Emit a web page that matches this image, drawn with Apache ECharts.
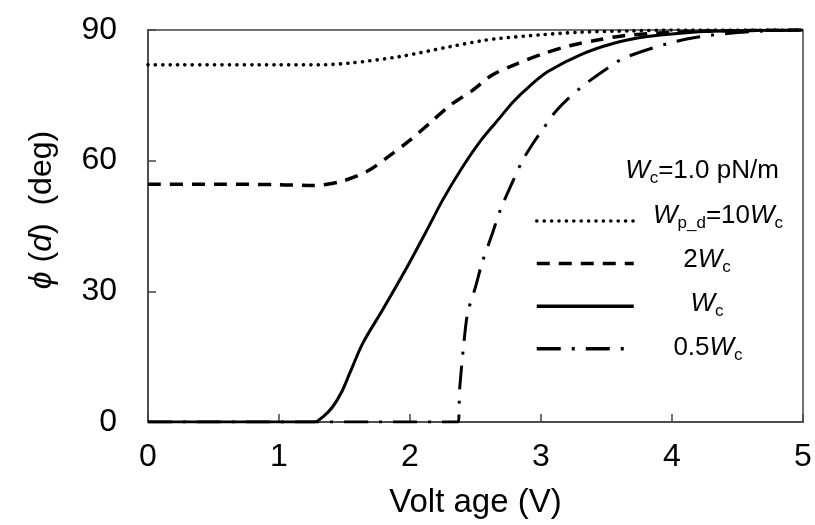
<!DOCTYPE html>
<html>
<head>
<meta charset="utf-8">
<script src="https://cdn.jsdelivr.net/npm/echarts@6/dist/echarts.min.js"></script>
<style>
	html, body { margin: 0; padding: 0; background: #fff; }
	#chart { width: 815px; height: 525px; }
</style>
</head>
<body>
<div id="chart"></div>
<script>
// 读图得到的数据 (电压 V, 角度 deg)
const volt10 = [0, 1.0, 1.3, 1.54, 1.92, 2.31, 2.56, 2.69, 3.0, 3.3, 3.7, 4.0, 5.0];
const phi10 = [82, 82, 82, 82.4, 83.9, 86.2, 87.6, 88.1, 88.9, 89.5, 89.8, 90, 90];

const volt2 = [0, 0.5, 1.0, 1.26, 1.47, 1.67, 1.82, 2.0, 2.15, 2.31, 2.48, 2.63, 2.82, 3.02, 3.22, 3.43, 3.63, 3.9, 4.2, 4.6, 5.0];
const phi2 = [54.6, 54.6, 54.5, 54.3, 55.2, 57.5, 60.6, 64.7, 68.6, 72.8, 76.2, 79.7, 82.3, 84.6, 86.4, 87.7, 88.7, 89.3, 89.7, 89.9, 90];

const volt1 = [0, 1.27, 1.34, 1.41, 1.48, 1.54, 1.64, 1.79, 1.98, 2.13, 2.25, 2.4, 2.55, 2.69, 2.79, 2.92, 3.05, 3.3, 3.55, 3.81, 4.04, 4.3, 4.6, 5.0];
const phi1 = [0, 0, 1.3, 3.5, 7, 11.2, 18.1, 25.7, 35.7, 44.1, 51, 58.5, 65, 70, 73.6, 77.3, 80.4, 84.3, 86.9, 88.5, 89.2, 89.7, 89.9, 90];

const volt05 = [0, 2.37, 2.375, 2.38, 2.41, 2.44, 2.5, 2.55, 2.63, 2.69, 2.79, 2.86, 2.94, 3.01, 3.12, 3.3, 3.56, 3.66, 3.97, 4.2, 4.5, 4.8, 5.0];
const phi05 = [0, 0, 4, 8, 17.7, 25, 31, 36.5, 43.4, 48.7, 55.6, 60.1, 64, 67, 71.6, 76.7, 82.3, 83.9, 86.9, 88.4, 89.4, 89.9, 90];

const seriesNames = ["10Wc", "2Wc", "Wc", "0.5Wc"];
const xTicks = [0, 1, 2, 3, 4, 5];
const yTicks = [0, 30, 60, 90];

const FONT = "'Liberation Sans', Arial, sans-serif";

const pairs = (xs, ys) => xs.map((x, i) => [x, ys[i]]);

const chart = echarts.init(document.getElementById("chart"), null, { renderer: "canvas" });

// 图例文字 (带斜体和下标)
const richText = {
	i: { fontFamily: FONT, fontSize: 26, fontStyle: "italic", color: "#000", verticalAlign: "middle", lineHeight: 32 },
	n: { fontFamily: FONT, fontSize: 26, color: "#000", verticalAlign: "middle", lineHeight: 32 },
	s: { fontFamily: FONT, fontSize: 17, color: "#000", verticalAlign: "bottom", lineHeight: 15 },
};
const legendLabel = (text, x, y) => ({
	type: "text",
	x,
	y,
	style: {
		text,
		rich: richText,
		textAlign: "center",
		textVerticalAlign: "middle",
	},
});

const baseLine = {
	type: "line",
	showSymbol: false,
	symbol: "none",
	smooth: 0.3,
	color: "#000",
	z: 3,
};

const option = {
	animation: false,
	backgroundColor: "#fff",
	grid: {
		left: 148,
		right: 12,
		top: 30,
		bottom: 103,
		show: true,
		borderColor: "#444",
		borderWidth: 1.5,
	},
	legend: {
		orient: "vertical",
		left: 530,
		top: 209,
		itemWidth: 97,
		itemHeight: 14,
		itemGap: 30,
		formatter: () => "",
		textStyle: { fontSize: 10 },
		itemStyle: { opacity: 0 },
		lineStyle: { width: 3.5 },
		selectedMode: false,
		data: seriesNames,
	},
	xAxis: {
		type: "value",
		min: xTicks[0],
		max: xTicks[xTicks.length - 1],
		interval: 1,
		name: "Volt age (V)",
		nameLocation: "middle",
		nameGap: 64,
		nameTextStyle: { fontFamily: FONT, fontSize: 33, color: "#000" },
		axisLine: { show: true, lineStyle: { color: "#444", width: 1.5 } },
		axisTick: { show: true, inside: true, length: 8, lineStyle: { color: "#444", width: 1.5 } },
		axisLabel: { fontFamily: FONT, fontSize: 32, color: "#000", margin: 19 },
		splitLine: { show: false },
	},
	yAxis: {
		type: "value",
		min: yTicks[0],
		max: yTicks[yTicks.length - 1],
		interval: 30,
		axisLine: { show: true, lineStyle: { color: "#444", width: 1.5 } },
		axisTick: { show: true, inside: true, length: 8, lineStyle: { color: "#444", width: 1.5 } },
		axisLabel: { fontFamily: FONT, fontSize: 32, color: "#000", margin: 31 },
		splitLine: { show: false },
	},
	graphic: [
		{
			type: "text",
			x: 42,
			y: 210,
			rotation: Math.PI / 2,
			style: {
				text: "{i|ϕ}{n| (}{i|d}{n|)  (deg)}",
				rich: {
					i: { fontFamily: FONT, fontSize: 32, fontStyle: "italic", color: "#000" },
					n: { fontFamily: FONT, fontSize: 32, color: "#000" },
				},
				textAlign: "center",
				textVerticalAlign: "middle",
			},
		},
		legendLabel("{i|W}{s|c}{n|=1.0 pN/m}", 702, 171),
		legendLabel("{i|W}{s|p_d}{n|=10}{i|W}{s|c}", 718, 216),
		legendLabel("{n|2}{i|W}{s|c}", 707, 260),
		legendLabel("{i|W}{s|c}", 707, 304),
		legendLabel("{n|0.5}{i|W}{s|c}", 708, 348),
	],
	series: [
		{
			...baseLine,
			name: seriesNames[0],
			data: pairs(volt10, phi10),
			lineStyle: { color: "#000", width: 3.6, type: [0.1, 7.3], cap: "round" },
		},
		{
			...baseLine,
			name: seriesNames[1],
			data: pairs(volt2, phi2),
			lineStyle: { color: "#000", width: 3.5, type: [13, 9] },
		},
		{
			...baseLine,
			name: seriesNames[2],
			data: pairs(volt1, phi1),
			lineStyle: { color: "#000", width: 3, type: "solid" },
		},
		{
			...baseLine,
			name: seriesNames[3],
			data: pairs(volt05, phi05),
			lineStyle: { color: "#000", width: 3, type: [24, 11, 3, 11] },
		},
	],
};

chart.setOption(option);
</script>
</body>
</html>
